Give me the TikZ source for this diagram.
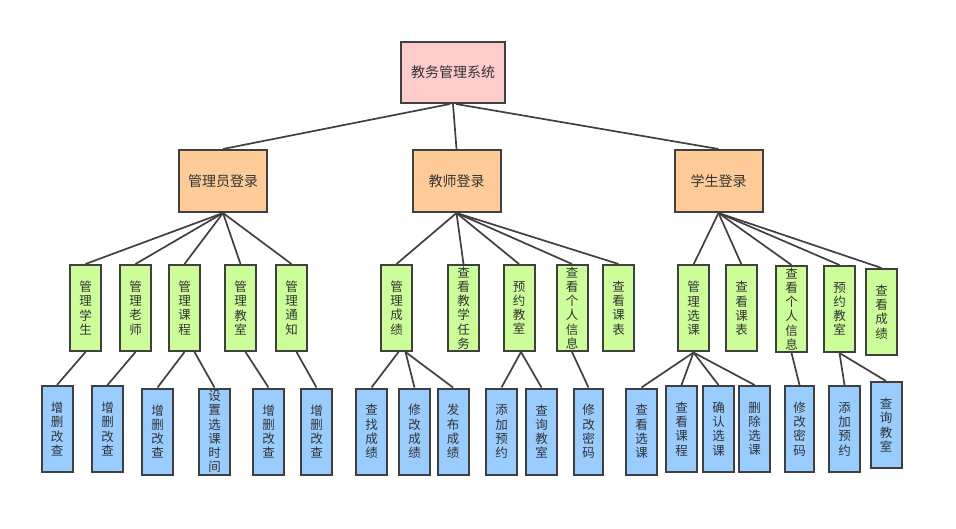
\documentclass[tikz,border=0pt]{standalone}
\usepackage{fontspec}
\newfontfamily\cjk{Noto Sans CJK SC}
\usetikzlibrary{positioning}

\definecolor{rootfill}{HTML}{FFCCCC}
\definecolor{loginfill}{HTML}{FFCC99}
\definecolor{funcfill}{HTML}{CCFF99}
\definecolor{opfill}{HTML}{99CCFF}
\definecolor{edgegray}{HTML}{404040}
\definecolor{textgray}{HTML}{333333}

\begin{document}
\begin{tikzpicture}[
  x=1pt, y=-1pt,
  box/.style = {draw=edgegray, line width=2pt, inner sep=0pt, align=center, text=textgray},
  root/.style = {box, fill=rootfill, minimum width=104pt, minimum height=61pt, font=\cjk\fontsize{14}{16}\selectfont},
  login/.style = {box, fill=loginfill, minimum width=88pt, minimum height=62pt, font=\cjk\fontsize{14}{16}\selectfont},
  func/.style = {box, fill=funcfill, minimum width=31pt, minimum height=86pt, font=\cjk\fontsize{12.5}{14.2}\selectfont},
  op/.style = {box, fill=opfill, minimum width=31pt, minimum height=86pt, font=\cjk\fontsize{12.5}{14.2}\selectfont},
  link/.style = {draw=edgegray, line width=1.7pt}
]
  \useasboundingbox (0,0) rectangle (956,529);

  % Root
  \node[root] (sys) at (453,72.5) {教务管理系统};

  % Logins
  \node[login] (admin_login) at (223,181) {管理员登录};
  \node[login] (teacher_login) at (456.5,181) {教师登录};
  \node[login] (student_login) at (718.5,181) {学生登录};

  % Admin functions
  \node[func] (adm_stu) at (85.5,308) {管\\理\\学\\生};
  \node[func] (adm_tea) at (135.5,308) {管\\理\\老\\师};
  \node[func] (adm_course) at (184.5,308) {管\\理\\课\\程};
  \node[func] (adm_room) at (240.5,308) {管\\理\\教\\室};
  \node[func] (adm_notice) at (291.5,308) {管\\理\\通\\知};

  \node[op] (adm_stu_crud) at (57,429) {增\\删\\改\\查};
  \node[op] (adm_tea_crud) at (107.5,429) {增\\删\\改\\查};
  \node[op] (adm_course_crud) at (157.5,431.5) {增\\删\\改\\查};
  \node[op] (adm_course_time) at (214.5,431.5) {设\\置\\选\\课\\时\\间};
  \node[op] (adm_room_crud) at (268.5,431.5) {增\\删\\改\\查};
  \node[op] (adm_notice_crud) at (316.5,431.5) {增\\删\\改\\查};

  % Teacher functions
  \node[func] (tch_score) at (396.5,308) {管\\理\\成\\绩};
  \node[func] (tch_task) at (463.5,308) {查\\看\\教\\学\\任\\务};
  \node[func] (tch_book) at (519,308) {预\\约\\教\\室};
  \node[func] (tch_info) at (572,308) {查\\看\\个\\人\\信\\息};
  \node[func] (tch_table) at (618.5,308) {查\\看\\课\\表};

  \node[op] (tch_score_find) at (371.5,431.5) {查\\找\\成\\绩};
  \node[op] (tch_score_edit) at (414.5,431.5) {修\\改\\成\\绩};
  \node[op] (tch_score_pub) at (453,431.5) {发\\布\\成\\绩};
  \node[op] (tch_book_add) at (501.5,431.5) {添\\加\\预\\约};
  \node[op] (tch_book_query) at (541.5,431.5) {查\\询\\教\\室};
  \node[op, minimum width=29pt] (tch_info_pwd) at (588.5,431.5) {修\\改\\密\\码};

  % Student functions
  \node[func] (stu_select) at (693.5,308.5) {管\\理\\选\\课};
  \node[func] (stu_table) at (741.5,308.5) {查\\看\\课\\表};
  \node[func] (stu_info) at (791.5,309) {查\\看\\个\\人\\信\\息};
  \node[func] (stu_book) at (839.5,309) {预\\约\\教\\室};
  \node[func] (stu_score) at (881.5,312) {查\\看\\成\\绩};

  \node[op] (stu_select_view) at (641.5,431.5) {查\\看\\选\\课};
  \node[op] (stu_select_course) at (681.5,429) {查\\看\\课\\程};
  \node[op] (stu_select_ok) at (718.5,429) {确\\认\\选\\课};
  \node[op] (stu_select_del) at (754.5,429) {删\\除\\选\\课};
  \node[op, minimum width=29pt] (stu_info_pwd) at (799.5,429) {修\\改\\密\\码};
  \node[op] (stu_book_add) at (844.5,429) {添\\加\\预\\约};
  \node[op] (stu_book_query) at (886,425) {查\\询\\教\\室};

  % Links
  \draw[link] ([xshift=-3pt]sys.south) -- (admin_login.north);
  \draw[link] (sys.south) -- (teacher_login.north);
  \draw[link] ([xshift=3pt]sys.south) -- (student_login.north);

  \draw[link] (admin_login.south) -- (adm_stu.north);
  \draw[link] (admin_login.south) -- (adm_tea.north);
  \draw[link] (admin_login.south) -- (adm_course.north);
  \draw[link] (admin_login.south) -- (adm_room.north);
  \draw[link] (admin_login.south) -- (adm_notice.north);

  \draw[link] (teacher_login.south) -- (tch_score.north);
  \draw[link] (teacher_login.south) -- (tch_task.north);
  \draw[link] (teacher_login.south) -- (tch_book.north);
  \draw[link] (teacher_login.south) -- (tch_info.north);
  \draw[link] (teacher_login.south) -- (tch_table.north);

  \draw[link] (student_login.south) -- (stu_select.north);
  \draw[link] (student_login.south) -- (stu_table.north);
  \draw[link] (student_login.south) -- (stu_info.north);
  \draw[link] (student_login.south) -- (stu_book.north);
  \draw[link] (student_login.south) -- (stu_score.north);

  \draw[link] (adm_stu.south) -- (adm_stu_crud.north);
  \draw[link] (adm_tea.south) -- (adm_tea_crud.north);
  \draw[link] (adm_course.south) -- (adm_course_crud.north);
  \draw[link] ([xshift=10pt]adm_course.south) -- (adm_course_time.north);
  \draw[link] ([xshift=5pt]adm_room.south) -- (adm_room_crud.north);
  \draw[link] ([xshift=5pt]adm_notice.south) -- (adm_notice_crud.north);

  \draw[link] ([xshift=2pt]tch_score.south) -- (tch_score_find.north);
  \draw[link] ([xshift=9pt]tch_score.south) -- (tch_score_edit.north);
  \draw[link] ([xshift=9pt]tch_score.south) -- (tch_score_pub.north);
  \draw[link] ([xshift=2pt]tch_book.south) -- (tch_book_add.north);
  \draw[link] ([xshift=2pt]tch_book.south) -- (tch_book_query.north);
  \draw[link] (tch_info.south) -- (tch_info_pwd.north);

  \draw[link] (stu_select.south) -- (stu_select_view.north);
  \draw[link] (stu_select.south) -- (stu_select_course.north);
  \draw[link] (stu_select.south) -- (stu_select_ok.north);
  \draw[link] (stu_select.south) -- (stu_select_del.north);
  \draw[link] (stu_info.south) -- (stu_info_pwd.north);
  \draw[link] (stu_book.south) -- (stu_book_add.north);
  \draw[link] (stu_book.south) -- (stu_book_query.north);

\end{tikzpicture}
\end{document}
